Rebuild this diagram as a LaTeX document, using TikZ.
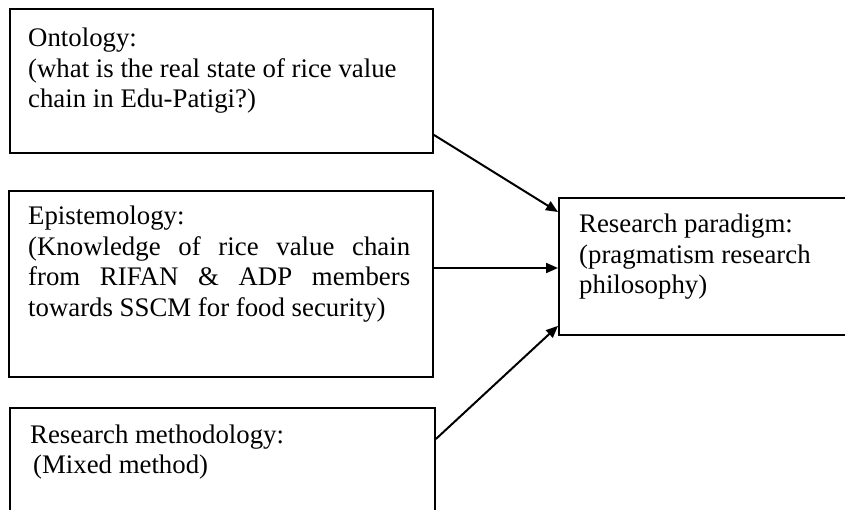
\documentclass[tikz,border=0pt]{standalone}
\usepackage{fontspec}
\setmainfont{Liberation Serif}
\usetikzlibrary{arrows.meta,calc}
\begin{document}
\begin{tikzpicture}[x=1pt,y=-1pt,
  box/.style={draw=black,line width=1.9pt,rectangle,inner sep=0pt,anchor=north west},
  txt/.style={inner sep=0pt,anchor=base west,font=\fontsize{26.8}{30.5}\selectfont},
  arr/.style={line width=2pt,-{Triangle[length=12pt,width=10pt]}}]
\useasboundingbox (0,0) rectangle (845,510);
\clip (0,0) rectangle (845,510);
% boxes
\node[box,minimum width=423pt,minimum height=144pt] (onto) at (9,8) {};
\node[box,minimum width=424pt,minimum height=186pt] (epi) at (8,190) {};
\node[box,minimum width=425pt,minimum height=130pt] (meth) at (9,407) {};
\node[box,minimum width=320pt,minimum height=137pt] (para) at (558,197) {};
% texts
\node[txt] (tonto) at (28,47) {\parbox[t]{400pt}{Ontology:\\(what is the real state of rice value\\chain in Edu-Patigi?)}};
\node[txt] (tepi) at (28,225) {\parbox[t]{382pt}{Epistemology:\\\makebox[382pt][s]{(Knowledge of rice value chain}\\\makebox[382pt][s]{from RIFAN \& ADP members}\\towards SSCM for food security)}};
\node[txt] (tmeth) at (30,443) {\parbox[t]{400pt}{Research methodology:\\\hspace*{3pt}(Mixed method)}};
\node[txt] (tpara) at (579,233) {\parbox[t]{260pt}{Research paradigm:\\(pragmatism research\\philosophy)}};
% connectors
\draw[arr] ([yshift=19pt]onto.south east) -- ([yshift=-15pt]para.north west);
\draw[arr] ([yshift=-78pt]epi.north east) coordinate (e1) -- (e1 -| para.west);
\draw[arr] ([yshift=-32pt]meth.north east) -- ([yshift=10pt]para.south west);
\end{tikzpicture}
\end{document}
